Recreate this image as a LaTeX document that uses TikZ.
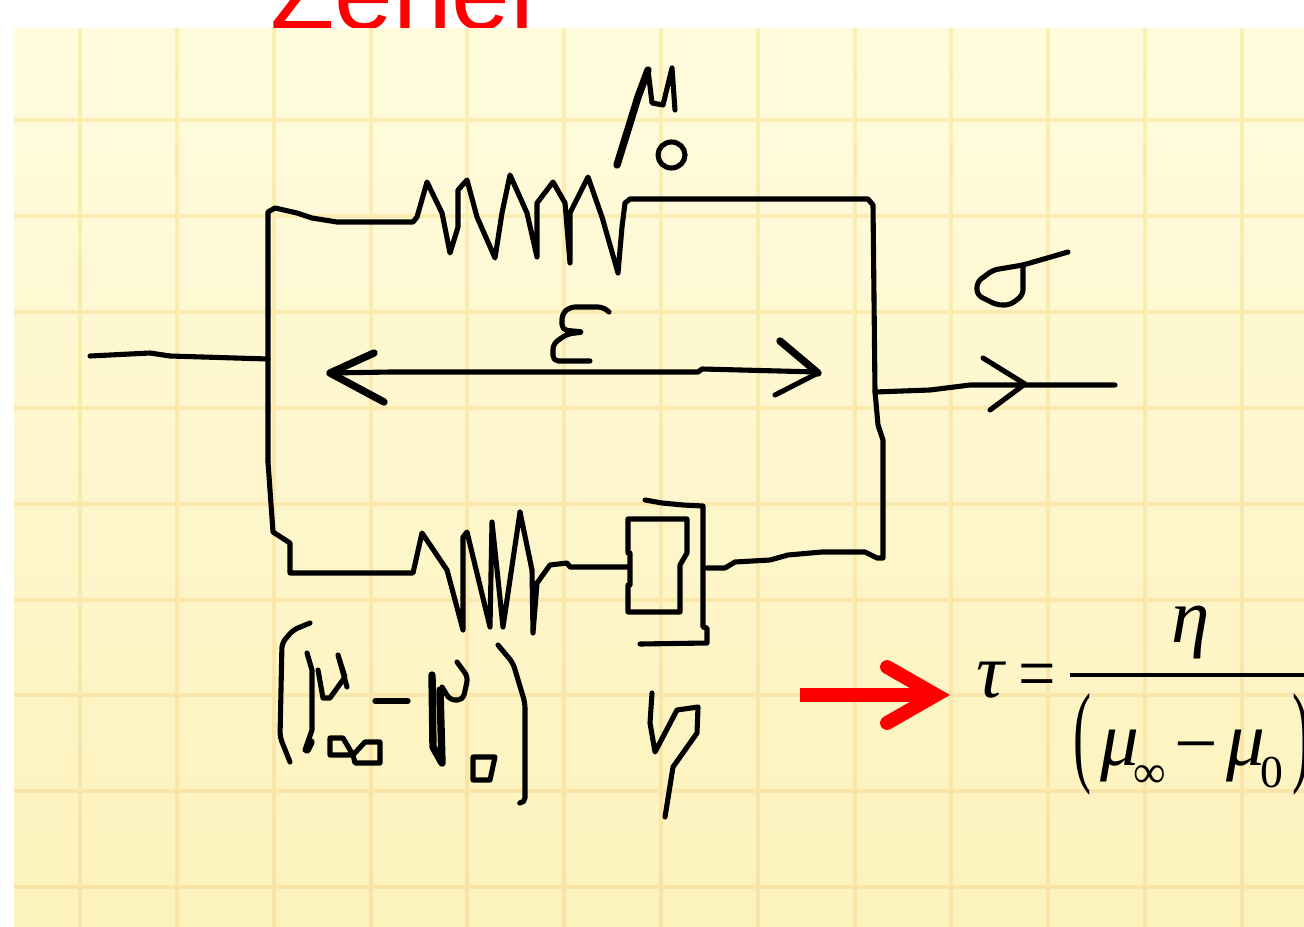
\documentclass[tikz,border=0pt]{standalone}
\usepackage{graphicx}
\usepackage{fontspec}
\setmainfont{Liberation Serif}
\newfontfamily\zenerfont{Liberation Sans}
\definecolor{paperTop}{HTML}{FFFBDD}
\definecolor{paperBot}{HTML}{FCF2BC}
\definecolor{gridTop}{HTML}{FBEFB4}
\definecolor{gridBot}{HTML}{F9E3A6}
\tikzstyle{pen} = [draw=black, line width=2.9pt, line join=round, line cap=round]
\tikzstyle{heavy} = [pen, line width=4.2pt]
\tikzstyle{curvy} = [pen, rounded corners=3pt]
\tikzstyle{formula} = [inner sep=0pt, anchor=base, font=\fontsize{44}{44}\selectfont\itshape]
\tikzstyle{formulaup} = [formula, font=\fontsize{44}{44}\selectfont]
\tikzstyle{formulasub} = [formula, font=\fontsize{26}{26}\selectfont]

\begin{document}
\begin{tikzpicture}[x=0.02cm, y=-0.02cm]
    \useasboundingbox (0, 0) rectangle (1304, 926);

    % title, cut off by the paper
    \node (title) [inner sep=0pt, anchor=base west, text=red, font=\fontsize{60}{60}\selectfont\zenerfont] at (270, 30) {Zener};

    % paper and grid
    \fill [top color=paperTop, bottom color=paperBot] (14, 29) rectangle (1304, 926);
    \foreach \gx in {80, 177, 274, 371, 467, 564, 661, 758, 855, 951, 1048, 1145, 1242}
        \fill [top color=gridTop, bottom color=gridBot] (\gx-1.7, 29) rectangle (\gx+1.7, 926);
    \foreach \gy in {120, 216, 312, 408, 504, 600, 695, 791, 887} {
        \pgfmathsetmacro{\gmix}{(926-\gy)/897*100}
        \fill [gridTop!\gmix!gridBot] (14, \gy-1.7) rectangle (1304, \gy+1.7);
    }

    % upper branch
    \draw [pen] (268, 462) -- (268, 212) -- (275, 208) -- (297, 213) -- (312, 218) -- (337, 222) -- (413, 222) -- (417, 217)
        -- (427, 182) -- (442, 213) -- (450, 253) -- (458, 227) -- (458, 190) -- (467, 180) -- (477, 217) -- (495, 258)
        -- (502, 213) -- (510, 175) -- (527, 213) -- (537, 257) -- (537, 203) -- (553, 182) -- (565, 203) -- (570, 263)
        -- (570, 213) -- (588, 177) -- (602, 217) -- (618, 273) -- (622, 227) -- (625, 203) -- (630, 199) -- (868, 199)
        -- (873, 205) -- (875, 392) -- (878, 425) -- (883, 440) -- (883, 558) -- (877, 558) -- (865, 552) -- (822, 552)
        -- (788, 555) -- (770, 560) -- (735, 562) -- (725, 568) -- (707, 568);

    % lower branch
    \draw [pen] (268, 462) -- (270, 490) -- (273, 532) -- (290, 543) -- (290, 573) -- (413, 573) -- (422, 533) -- (447, 570)
        -- (463, 630) -- (463, 537) -- (467, 532) -- (490, 627) -- (492, 522) -- (503, 627) -- (520, 512) -- (532, 570)
        -- (533, 633) -- (537, 583) -- (550, 565) -- (567, 563) -- (570, 567) -- (628, 567);
    \draw [pen] (628, 612) -- (628, 585) -- (630, 585) -- (630, 553) -- (628, 553) -- (628, 519) -- (687, 519)
        -- (687, 553) -- (680, 565) -- (680, 612) -- cycle;
    \draw [pen] (645, 500) -- (662, 503) -- (683, 505) -- (703, 506) -- (703, 627) -- (707, 628) -- (707, 643) -- (640, 644);

    % leads
    \draw [pen] (90, 356) -- (150, 353) -- (170, 356) -- (268, 359);
    \draw [pen] (875, 392) -- (930, 390) -- (970, 385) -- (1115, 385);
    \draw [pen] (983, 358) -- (1025, 384) -- (990, 410);

    % strain arrow
    \draw [pen] (330, 373) -- (391, 372) -- (698, 372) -- (702, 369) -- (818, 372);
    \draw [heavy] (374, 353) -- (330, 373) -- (384, 402);
    \draw [heavy] (780, 341) -- (818, 373);
    \draw [pen] (818, 373) -- (775, 395);

    % epsilon
    \draw [curvy] (609, 312) -- (603, 307) -- (570, 307) -- (562, 314) -- (562, 330) -- (584, 332) -- (567, 334) -- (553, 344)
        -- (553, 361) -- (590, 361);

    % mu0
    \draw [heavy] (617, 165) -- (638, 97) -- (648, 70);
    \draw [pen] (648, 70) -- (652, 103) -- (663, 105) -- (672, 68) -- (675, 110);
    \draw [pen] (671.5, 155) ellipse [x radius=13.5, y radius=13];

    % sigma
    \draw [curvy] (1068, 252) -- (1023, 265) -- (993, 270) -- (977, 282) -- (977, 295) -- (997, 305) -- (1010, 305)
        -- (1023, 295) -- (1023, 267);

    % (mu_inf - mu_0)
    \draw [curvy] (310, 623) -- (293, 630) -- (282, 643) -- (280, 737) -- (290, 762);
    \draw [pen] (307, 653) -- (312, 670) -- (312, 730) -- (305, 750);
    \draw [heavy] (307, 750) -- (311, 742);
    \draw [pen] (318, 670) -- (323, 698) -- (330, 698) -- (345, 677) -- (338, 655) -- (347, 687);
    \draw [pen] (353, 755) -- (343, 738) -- (330, 738) -- (330, 755) -- (353, 755) -- (365, 742) -- (380, 742) -- (380, 763) -- (355, 763) -- cycle;
    \draw [pen] (375, 701) -- (408, 701);
    \draw [heavy] (432, 675) -- (433, 747) -- (442, 763) -- (440, 690);
    \draw [curvy] (442, 687) -- (450, 700) -- (463, 700) -- (468, 677) -- (457, 662);
    \draw [pen] (473, 757) -- (495, 757) -- (490, 780) -- (473, 780) -- cycle;
    \draw [curvy] (498, 645) -- (513, 663) -- (525, 703) -- (525, 803) -- (520, 803);

    % eta
    \draw [pen] (652, 693) -- (650, 723) -- (655, 752) -- (677, 710) -- (698, 707) -- (697, 733) -- (673, 767) -- (665, 817);

    % red arrow
    \draw [red, line width=7.9pt] (800, 695) -- (925, 695);
    \draw [red, line width=7.9pt, line cap=round, miter limit=10] (887, 667) -- (936, 695) -- (887, 723);

    % formula
    \node (tau) [formula] at (990, 697) {τ};
    \node (equals) [formulaup] at (1037, 699) {\scalebox{0.86}[1]{=}};
    \node (eta) [formula] at (1191, 642) {η};
    \draw [line width=2.5pt] (1070, 675) -- (1304, 675);
    \node (lparen) [formulaup, anchor=center] at (1082, 744) {\resizebox*{0.36cm}{2.04cm}{(}};
    \node (muinf) [formula] at (1120, 765) {μ};
    \node (inf) [formulasub] at (1150, 787) {∞};
    \node (minus) [formulaup] at (1196, 769) {−};
    \node (muzero) [formula] at (1246, 765) {μ};
    \node (zero) [formulasub] at (1272, 787) {0};
    \node (rparen) [formulaup, anchor=center] at (1301, 744) {\resizebox*{0.36cm}{2.04cm}{)}};
\end{tikzpicture}
\end{document}
